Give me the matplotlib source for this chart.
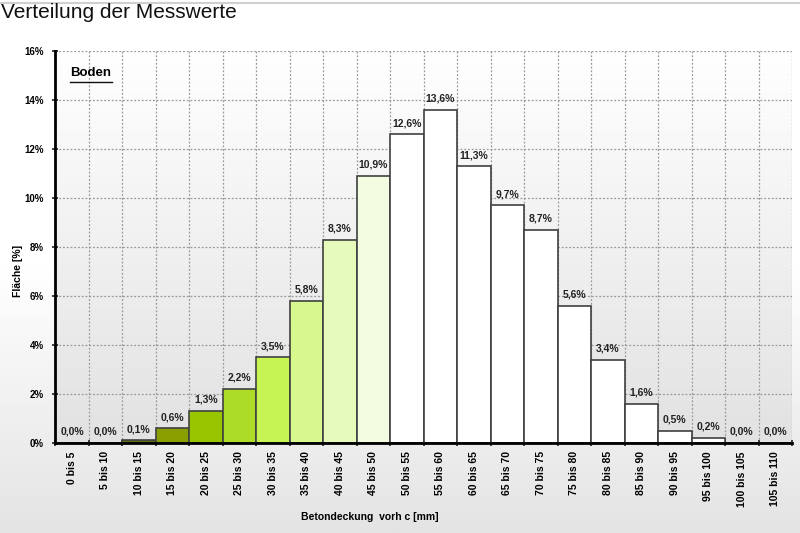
import numpy as np
import matplotlib
matplotlib.use("Agg")
import matplotlib.pyplot as plt
from matplotlib.ticker import FixedLocator
from matplotlib.colors import LinearSegmentedColormap

categories = ["0 bis 5", "5 bis 10", "10 bis 15", "15 bis 20", "20 bis 25", "25 bis 30",
              "30 bis 35", "35 bis 40", "40 bis 45", "45 bis 50", "50 bis 55", "55 bis 60",
              "60 bis 65", "65 bis 70", "70 bis 75", "75 bis 80", "80 bis 85", "85 bis 90",
              "90 bis 95", "95 bis 100", "100 bis 105", "105 bis 110"]
values = [0.0, 0.0, 0.1, 0.6, 1.3, 2.2, 3.5, 5.8, 8.3, 10.9, 12.6, 13.6,
          11.3, 9.7, 8.7, 5.6, 3.4, 1.6, 0.5, 0.2, 0.0, 0.0]
bar_colors = ["#ffffff", "#ffffff", "#5f6d12", "#8aa000", "#98c400", "#acdc26",
              "#c6f452", "#d6f88c", "#e6fabc", "#f3fce0"] + ["#ffffff"] * 12
y_ticks = [0, 2, 4, 6, 8, 10, 12, 14, 16]

plt.rcParams['font.family'] = ['Liberation Sans', 'DejaVu Sans']

fig = plt.figure(figsize=(8, 5.33), dpi=100)

# figure background gradient
bg = fig.add_axes([0, 0, 1, 1], zorder=-10)
grad = np.linspace(0, 1, 256).reshape(-1, 1)
cm_fig = LinearSegmentedColormap.from_list("g", ["#ffffff", "#ffffff", "#e4e4e4"])
bg.imshow(grad, aspect="auto", cmap=cm_fig, extent=[0, 1, 0, 1], origin="upper")
bg.axhline(0.994, color="#d0d0d0", lw=1.5)
bg.set_xlim(0, 1); bg.set_ylim(0, 1)
bg.axis("off")

ax = fig.add_axes([0.069, 0.169, 0.921, 0.735])
cm_ax = LinearSegmentedColormap.from_list("a", ["#ffffff", "#e2e2e2"])
ax.imshow(grad, aspect="auto", cmap=cm_ax, extent=[-0.5, 21.5, 0, 16],
          origin="upper", zorder=0)

x = np.arange(len(categories))
ax.bar(x, values, width=1.0, color=bar_colors, edgecolor="#404040", linewidth=1.2, zorder=3)

for xi, v in zip(x, values):
    ax.text(xi, v + 0.25, f"{v:.1f}%".replace(".", ","), ha="center", va="bottom",
            fontsize=7.5, fontweight="bold", color="#222222", zorder=4)

ax.set_xlim(-0.5, 21.5)
ax.set_ylim(0, 16)
ax.set_xticks(x)
ax.set_xticklabels(categories, rotation=90, fontsize=7.5, fontweight="bold")
ax.xaxis.set_minor_locator(FixedLocator(np.arange(-0.5, 22, 1)))
ax.tick_params(axis="x", which="major", length=0, pad=6)
ax.tick_params(axis="x", which="minor", length=4, width=1.2, direction="inout", color="#222222")
ax.set_yticks(y_ticks)
ax.set_yticklabels([f"{t}%" for t in y_ticks], fontsize=7, fontweight="bold")
ax.tick_params(axis="y", length=4, width=1.2, direction="inout", color="#222222", pad=6)

ax.grid(True, which="minor", axis="x", linestyle=(0, (1.5, 1.5)), color="#999999", lw=0.9, zorder=1)
ax.grid(True, which="major", axis="y", linestyle=(0, (1.5, 1.5)), color="#999999", lw=0.9, zorder=1)
ax.set_axisbelow(True)

for s in ["top", "right"]:
    ax.spines[s].set_visible(False)
ax.spines["left"].set_linewidth(2)
ax.spines["bottom"].set_linewidth(2)
ax.spines["left"].set_zorder(5)
ax.spines["bottom"].set_zorder(5)

ax.set_xlabel("Betondeckung  vorh c [mm]", fontsize=7.5, fontweight="bold")
ax.xaxis.set_label_coords(0.427, -0.189)
ax.xaxis.label.set_va("center")
ax.set_ylabel("Fläche [%]", fontsize=7.5, fontweight="bold")
ax.yaxis.set_label_coords(-0.050, 0.44)
ax.yaxis.label.set_va("center")

ax.text(0.02, 0.945, "Boden", transform=ax.transAxes, fontsize=9.5, fontweight="bold",
        ha="left", va="center", zorder=6)
ax.plot([0.02, 0.077], [0.922, 0.922], transform=ax.transAxes, color="#111111", lw=1, zorder=6)

fig.text(0.001, 0.977, "Verteilung der Messwerte", fontsize=15, ha="left", va="center", color="#111111")

fig.savefig("out.png", dpi=100)
